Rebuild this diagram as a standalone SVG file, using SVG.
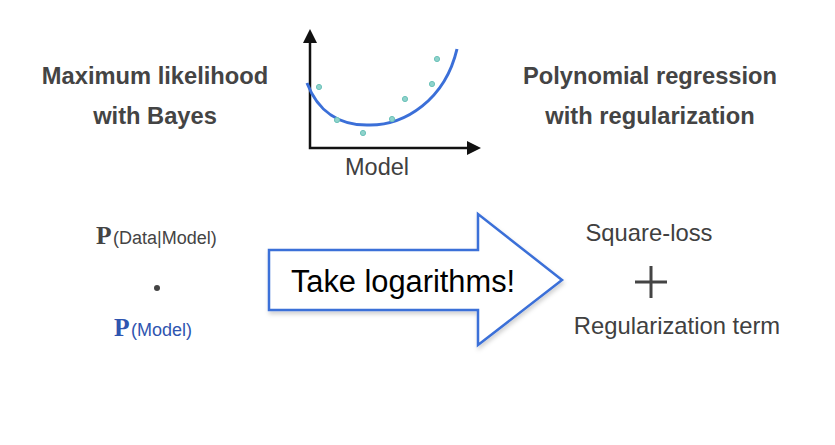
<svg xmlns="http://www.w3.org/2000/svg" width="835" height="445" viewBox="0 0 835 445">
<defs>
<style>
.title{font-family:"Liberation Sans",Arial,sans-serif;font-weight:bold;font-size:23.7px;fill:#444;text-anchor:middle}
.lbl{font-family:"Liberation Sans",Arial,sans-serif;font-size:23.8px;fill:#404040;text-anchor:middle}
.small{font-family:"Liberation Sans",Arial,sans-serif;font-size:18px}
.bigP{font-family:"Liberation Serif","Times New Roman",serif;font-weight:bold;font-size:25.5px}
.dot{fill:#8fd3cc;stroke:#6cc2b9;stroke-width:1}
.axis{stroke:#111;stroke-width:2.5;fill:none}
</style>
<filter id="sh" x="-5%" y="-5%" width="115%" height="120%">
<feDropShadow dx="1" dy="3" stdDeviation="2" flood-color="#000" flood-opacity="0.18"/>
</filter>
</defs>
<rect width="835" height="445" fill="#ffffff"/>

<g id="title-left">
<text class="title" x="155" y="84">Maximum likelihood</text>
<text class="title" x="155" y="124">with Bayes</text>
</g>
<g id="title-right">
<text class="title" x="650" y="84">Polynomial regression</text>
<text class="title" x="650" y="124">with regularization</text>
</g>

<g id="graph">
<path class="axis" d="M310,40 V148 H470"/>
<polygon points="310,29 303,43 317,43" fill="#111"/>
<polygon points="481,148 467,141 467,155" fill="#111"/>
<path d="M307,83 C318,112 340,126 370,125 C405,125 445,100 457,49" fill="none" stroke="#3b6fd8" stroke-width="3"/>
<circle class="dot" cx="319" cy="87" r="2.6"/>
<circle class="dot" cx="337" cy="120" r="2.6"/>
<circle class="dot" cx="363" cy="133" r="2.6"/>
<circle class="dot" cx="392" cy="119" r="2.6"/>
<circle class="dot" cx="405" cy="99" r="2.6"/>
<circle class="dot" cx="432" cy="84" r="2.6"/>
<circle class="dot" cx="437" cy="59" r="2.6"/>
<text class="lbl" x="377" y="175" style="font-size:23.5px">Model</text>
</g>

<g id="left-formula">
<g fill="#444">
<text class="bigP" x="96" y="244">P</text>
<text class="small" x="113" y="244">(Data|Model)</text>
</g>
<circle cx="157" cy="288" r="3" fill="#444"/>
<g fill="#2f55b0">
<text class="bigP" x="114" y="336">P</text>
<text class="small" x="131" y="336">(Model)</text>
</g>
</g>

<g id="connectors">
<g id="arrow">
<polygon points="269,250 478,250 478,214 562,280 478,345 478,310 269,310" fill="#fff" stroke="#3b6fd8" stroke-width="2.5" stroke-linejoin="miter" filter="url(#sh)"/>
<text x="403" y="292" text-anchor="middle" style="font-family:'Liberation Sans',Arial,sans-serif;font-size:30.8px;fill:#000">Take logarithms!</text>
</g>
</g>

<g id="right-formula">
<text class="lbl" x="649" y="241">Square-loss</text>
<path d="M635,282 H667 M651,266 V298" stroke="#444" stroke-width="3"/>
<text class="lbl" x="677" y="334">Regularization term</text>
</g>
</svg>
